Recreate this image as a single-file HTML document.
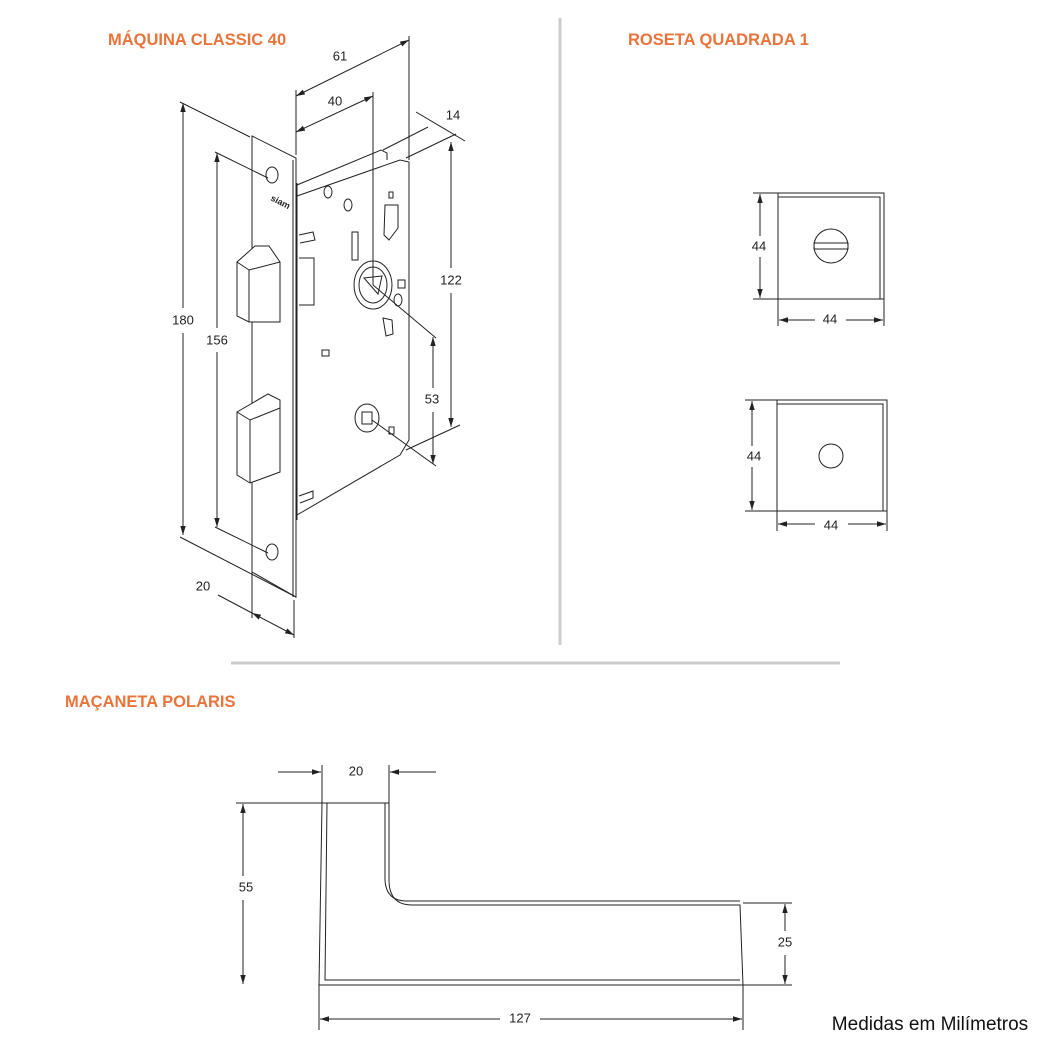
<!DOCTYPE html>
<html><head><style>
body{margin:0;background:#fff}
svg{display:block}
.t{font-family:"Liberation Sans",sans-serif;font-weight:bold;fill:#e8743b;font-size:16.5px}
.d{font-family:"Liberation Sans",sans-serif;font-size:13px;fill:#222;text-anchor:middle;dominant-baseline:middle}
</style></head><body>
<svg width="1050" height="1050" viewBox="0 0 1050 1050" xmlns="http://www.w3.org/2000/svg">
<defs>
<marker id="a" viewBox="0 0 10 10" refX="10" refY="5" markerWidth="9" markerHeight="9" orient="auto-start-reverse"><path d="M0,2 L10,5 L0,8 z" fill="#222"/></marker>
</defs>
<text class="t" x="108" y="45">MÁQUINA CLASSIC 40</text>
<text class="t" x="628" y="45">ROSETA QUADRADA 1</text>
<text class="t" x="65" y="707">MAÇANETA POLARIS</text>
<line x1="560" y1="18" x2="560" y2="645" stroke="#ccc" stroke-width="3"/>
<line x1="231" y1="663" x2="840" y2="663" stroke="#ccc" stroke-width="3"/>

<g stroke="#222" stroke-width="1" fill="none">
<path d="M297,196 L400,160 L409,162 L409,440 L400,455 L297,515" fill="#fff"/>
<path d="M297,185 L381,150 L387,153 L387,160"/>
<path d="M297,183 L297,520"/>
<path d="M252,136 L296,158 L296,597 L252,572 Z" fill="#fff"/>
<line x1="293" y1="160" x2="293" y2="597"/>
<ellipse cx="272" cy="175" rx="6" ry="8"/>
<ellipse cx="272" cy="552" rx="6" ry="8"/>
<text x="270" y="200" font-family="Liberation Sans,sans-serif" font-size="9" font-weight="bold" fill="#222" stroke="none" transform="rotate(27 270 200)">siam</text>
<path d="M237,262 L237,316 L249,322 L280,322 L280,262 L269,246 L255,246 Z" fill="#fff"/>
<line x1="249" y1="270" x2="249" y2="322"/>
<path d="M237,262 L249,270 L280,262"/>
<path d="M299,258 L314,258 L314,305 L299,305"/>
<path d="M299,235 L313,232 L315,240 L300,243"/>
<path d="M237,412 L237,475 L250,483 L280,472 L280,400 L268,394 Z" fill="#fff"/>
<line x1="250" y1="420" x2="250" y2="483"/>
<line x1="237" y1="412" x2="250" y2="420"/><line x1="250" y1="420" x2="280" y2="408"/>
<path d="M299,496 L313,491 L313,498 L300,503"/>
<ellipse cx="328" cy="192" rx="4" ry="6"/>
<ellipse cx="348" cy="205" rx="4" ry="6"/>
<rect x="352" y="232" width="6" height="28"/>
<rect x="389" y="192" width="4" height="6"/>
<path d="M385,205 L398,205 L398,228 L389,240 L384,235 Z"/>
<ellipse cx="373" cy="285" rx="19" ry="24"/>
<ellipse cx="373" cy="285" rx="14" ry="18"/>
<path d="M364,278 L382,276 L378,294 Z"/>
<rect x="398" y="280" width="7" height="8"/>
<ellipse cx="398" cy="300" rx="4" ry="6"/>
<path d="M383,318 L392,320 L393,334 L386,336 Z"/>
<rect x="322" y="350" width="7" height="6"/>
<ellipse cx="367" cy="418" rx="12" ry="14"/>
<rect x="362" y="412" width="10" height="12"/>
<rect x="389" y="427" width="5" height="7"/>
<line x1="296" y1="155" x2="296" y2="90"/>
<line x1="409" y1="160" x2="409" y2="36"/>
<line x1="296" y1="96" x2="409" y2="40" marker-start="url(#a)" marker-end="url(#a)"/>
<line x1="373" y1="285" x2="373" y2="92"/>
<line x1="296" y1="132" x2="373" y2="96" marker-start="url(#a)" marker-end="url(#a)"/>
<line x1="383" y1="150" x2="428" y2="127"/>
<line x1="406" y1="158" x2="456" y2="134"/>
<line x1="416" y1="112" x2="465" y2="141"/>
<line x1="451" y1="142" x2="451" y2="268" marker-start="url(#a)"/>
<line x1="451" y1="293" x2="451" y2="427" marker-end="url(#a)"/>
<line x1="406" y1="450" x2="460" y2="425"/>
<line x1="373" y1="285" x2="436" y2="338"/>
<line x1="372" y1="420" x2="436" y2="466"/>
<line x1="433" y1="337" x2="433" y2="388" marker-start="url(#a)"/>
<line x1="433" y1="412" x2="433" y2="464" marker-end="url(#a)"/>
<line x1="180" y1="102" x2="250" y2="137"/>
<line x1="180" y1="537" x2="296" y2="597"/>
<line x1="183" y1="103" x2="183" y2="308" marker-start="url(#a)"/>
<line x1="183" y1="333" x2="183" y2="535" marker-end="url(#a)"/>
<line x1="215" y1="152" x2="268" y2="178"/>
<line x1="215" y1="527" x2="268" y2="553"/>
<line x1="217" y1="153" x2="217" y2="328" marker-start="url(#a)"/>
<line x1="217" y1="352" x2="217" y2="527" marker-end="url(#a)"/>
<line x1="252" y1="572" x2="252" y2="618"/>
<line x1="294" y1="600" x2="294" y2="638"/>
<line x1="218" y1="595" x2="252" y2="613"/>
<line x1="252" y1="613" x2="294" y2="635" marker-start="url(#a)" marker-end="url(#a)"/>

<rect x="778" y="193" width="106" height="106"/>
<path d="M778,197 L880,197 L880,299"/>
<circle cx="831" cy="246" r="17"/>
<rect x="814" y="243" width="34" height="6"/>
<line x1="753" y1="193" x2="778" y2="193"/><line x1="753" y1="299" x2="778" y2="299"/>
<line x1="760" y1="194" x2="760" y2="236" marker-start="url(#a)"/>
<line x1="760" y1="257" x2="760" y2="298" marker-end="url(#a)"/>
<line x1="778" y1="299" x2="778" y2="326"/><line x1="884" y1="299" x2="884" y2="326"/>
<line x1="779" y1="320" x2="815" y2="320" marker-start="url(#a)"/>
<line x1="846" y1="320" x2="883" y2="320" marker-end="url(#a)"/>
<rect x="777" y="400" width="110" height="111"/>
<path d="M777,404 L883,404 L883,511"/>
<circle cx="831" cy="456" r="12"/>
<line x1="745" y1="400" x2="777" y2="400"/><line x1="745" y1="511" x2="777" y2="511"/>
<line x1="752" y1="401" x2="752" y2="446" marker-start="url(#a)"/>
<line x1="752" y1="467" x2="752" y2="510" marker-end="url(#a)"/>
<line x1="777" y1="511" x2="777" y2="531"/><line x1="887" y1="511" x2="887" y2="531"/>
<line x1="778" y1="524" x2="815" y2="524" marker-start="url(#a)"/>
<line x1="848" y1="524" x2="886" y2="524" marker-end="url(#a)"/>

<path d="M322,803 L389,803 L389,880 Q389,905 412,905 L740,905 L743,985 L319,985 Z"/>
<path d="M327,803 L325,980 L740,980"/>
<path d="M385,803 L385,880 Q386,900 405,901 L740,901"/>
<line x1="322" y1="803" x2="322" y2="765"/><line x1="389" y1="803" x2="389" y2="765"/>
<line x1="278" y1="772" x2="321" y2="772" marker-end="url(#a)"/>
<line x1="436" y1="772" x2="390" y2="772" marker-end="url(#a)"/>
<line x1="236" y1="803" x2="322" y2="803"/>
<line x1="243" y1="804" x2="243" y2="876" marker-start="url(#a)"/>
<line x1="243" y1="900" x2="243" y2="984" marker-end="url(#a)"/>
<line x1="743" y1="903" x2="792" y2="903"/><line x1="743" y1="985" x2="792" y2="985"/>
<line x1="785" y1="904" x2="785" y2="931" marker-start="url(#a)"/>
<line x1="785" y1="955" x2="785" y2="984" marker-end="url(#a)"/>
<line x1="319" y1="985" x2="319" y2="1030"/><line x1="743" y1="985" x2="743" y2="1030"/>
<line x1="320" y1="1019" x2="500" y2="1019" marker-start="url(#a)"/>
<line x1="540" y1="1019" x2="742" y2="1019" marker-end="url(#a)"/>
</g>
<text class="d" x="340" y="57">61</text>
<text class="d" x="335" y="102">40</text>
<text class="d" x="453" y="116">14</text>
<text class="d" x="451" y="281">122</text>
<text class="d" x="432" y="400">53</text>
<text class="d" x="183" y="321">180</text>
<text class="d" x="217" y="341">156</text>
<text class="d" x="203" y="587">20</text>
<text class="d" x="759" y="247">44</text>
<text class="d" x="830" y="320">44</text>
<text class="d" x="754" y="457">44</text>
<text class="d" x="831" y="526">44</text>
<text class="d" x="356" y="772">20</text>
<text class="d" x="246" y="888">55</text>
<text class="d" x="785" y="943">25</text>
<text class="d" x="520" y="1019">127</text>
<text x="930" y="1030" font-family="Liberation Sans,sans-serif" font-size="19" fill="#111" text-anchor="middle">Medidas em Milímetros</text>
</svg>
</body></html>
